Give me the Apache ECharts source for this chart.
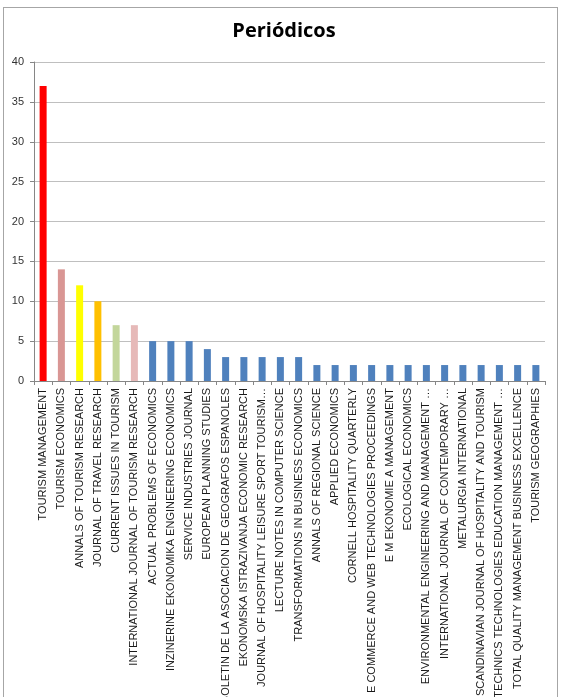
<!DOCTYPE html>
<html>
<head>
<meta charset="utf-8">
<script src="https://cdn.jsdelivr.net/npm/echarts@6/dist/echarts.min.js"></script>
<style>
    html, body { margin: 0; padding: 0; background: #fff; overflow: hidden; }
    #frame { position: absolute; left: 3px; top: 7px; width: 555px; height: 700px; border: 1px solid #a6a6a6; box-sizing: border-box; }
    #main { position: absolute; left: 0; top: 0; width: 570px; height: 697px; }
</style>
</head>
<body>
<div id="frame"></div>
<div id="main"></div>
<script>
// periódicos e número de artigos
var journals = [
    'TOURISM MANAGEMENT',
    'TOURISM ECONOMICS',
    'ANNALS OF TOURISM RESEARCH',
    'JOURNAL OF TRAVEL RESEARCH',
    'CURRENT ISSUES IN TOURISM',
    'INTERNATIONAL JOURNAL OF TOURISM RESEARCH',
    'ACTUAL PROBLEMS OF ECONOMICS',
    'INZINERINE EKONOMIKA ENGINEERING ECONOMICS',
    'SERVICE INDUSTRIES JOURNAL',
    'EUROPEAN PLANNING STUDIES',
    'BOLETIN DE LA ASOCIACION DE GEOGRAFOS ESPANOLES',
    'EKONOMSKA ISTRAZIVANJA ECONOMIC RESEARCH',
    'JOURNAL OF HOSPITALITY LEISURE SPORT TOURISM…',
    'LECTURE NOTES IN COMPUTER SCIENCE',
    'TRANSFORMATIONS IN BUSINESS ECONOMICS',
    'ANNALS OF REGIONAL SCIENCE',
    'APPLIED ECONOMICS',
    'CORNELL HOSPITALITY QUARTERLY',
    'E COMMERCE AND WEB TECHNOLOGIES PROCEEDINGS',
    'E M EKONOMIE A MANAGEMENT',
    'ECOLOGICAL ECONOMICS',
    'ENVIRONMENTAL ENGINEERING AND MANAGEMENT …',
    'INTERNATIONAL JOURNAL OF CONTEMPORARY …',
    'METALURGIA INTERNATIONAL',
    'SCANDINAVIAN JOURNAL OF HOSPITALITY AND TOURISM',
    'TECHNICS TECHNOLOGIES EDUCATION MANAGEMENT …',
    'TOTAL QUALITY MANAGEMENT BUSINESS EXCELLENCE',
    'TOURISM GEOGRAPHIES'
];
var counts = [37, 14, 12, 10, 7, 7, 5, 5, 5, 4, 3, 3, 3, 3, 3, 2, 2, 2, 2, 2, 2, 2, 2, 2, 2, 2, 2, 2];
// cores das primeiras barras, o resto é azul
var topColors = ['#ff0000', '#d99694', '#ffff00', '#ffc000', '#c3d69b', '#e6b9b8'];
var baseColor = '#4f81bd';

var chart = echarts.init(document.getElementById('main'));

var barData = [];
for (var i = 0; i < counts.length; i++) {
    barData.push({
        value: counts[i],
        itemStyle: { color: i < topColors.length ? topColors[i] : baseColor }
    });
}

var option = {
    animation: false,
    title: {
        text: 'Periódicos',
        left: 279,
        top: 16,
        textAlign: 'center',
        textStyle: {
            fontFamily: 'Open Sans',
            fontWeight: 'bold',
            fontSize: 20,
            color: '#000'
        }
    },
    grid: {
        left: 34,
        right: 25,
        top: 62,
        bottom: 316,
        outerBoundsMode: 'none'
    },
    xAxis: {
        type: 'category',
        data: journals,
        axisLine: { lineStyle: { color: '#868686' } },
        axisTick: { show: true, interval: 0, length: 4, lineStyle: { color: '#868686' } },
        axisLabel: {
            interval: 0,
            rotate: 90,
            margin: 7,
            fontFamily: 'Liberation Sans',
            fontSize: 11,
            color: '#1a1a1a'
        }
    },
    yAxis: {
        type: 'value',
        min: 0,
        max: 40,
        interval: 5,
        axisLine: { show: true, lineStyle: { color: '#868686' } },
        axisTick: { show: true, length: 4, lineStyle: { color: '#868686' } },
        axisLabel: {
            margin: 10,
            fontFamily: 'Liberation Sans',
            fontSize: 11,
            color: '#333'
        },
        splitLine: { lineStyle: { color: '#bfbfbf' } }
    },
    series: [{
        type: 'bar',
        data: barData,
        barWidth: 7
    }]
};

chart.setOption(option);
</script>
</body>
</html>
